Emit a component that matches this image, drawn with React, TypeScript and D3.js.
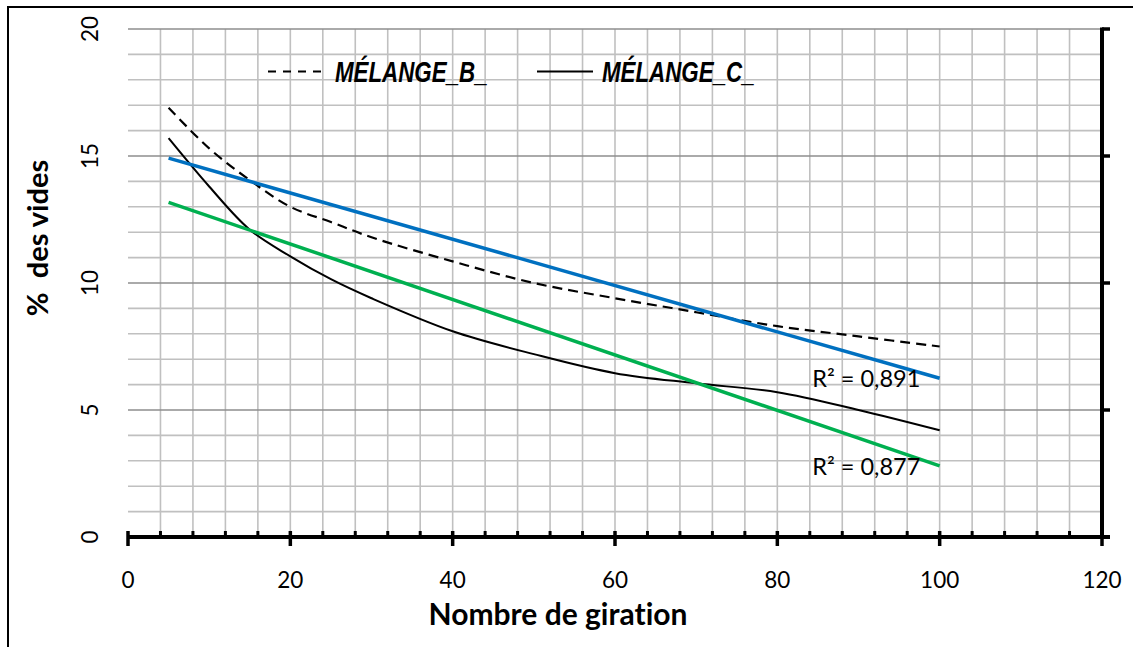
import * as d3 from "d3"

// gyration counts and void percentages
const gyrations = [5, 10, 15, 20, 25, 30, 40, 50, 60, 70, 80, 90, 100]
const videsB = [16.9, 15.3, 14.05, 13.0, 12.4, 11.8, 10.85, 10.0, 9.4, 8.85, 8.3, 7.9, 7.5]
const videsC = [15.7, 13.8, 12.1, 11.05, 10.15, 9.4, 8.1, 7.2, 6.45, 6.05, 5.7, 5.0, 4.2]

// linear trendlines (slope, intercept) and their R² labels
const trendB = { slope: -0.0912, intercept: 15.37, label: "R² = 0,891", labelAt: [84.3, 5.9] }
const trendC = { slope: -0.1092, intercept: 13.72, label: "R² = 0,877", labelAt: [84.3, 2.44] }
const trendRange = [5, 100]

const xTicks = [0, 20, 40, 60, 80, 100, 120]
const yTicks = [0, 5, 10, 15, 20]

const W = 1133
const H = 647
const margin = { left: 128, right: 1102, top: 29, bottom: 537 }
const tickFont = "Lato, 'Open Sans', sans-serif"
const legendFont = "'Liberation Sans', Arial, sans-serif"
const noLig = { fontVariantLigatures: "none" as const }

export default function App() {
  const x = d3.scaleLinear().domain([0, 120]).range([margin.left, margin.right])
  const y = d3.scaleLinear().domain([0, 20]).range([margin.bottom, margin.top])

  const line = d3
    .line<[number, number]>()
    .x((d) => x(d[0]))
    .y((d) => y(d[1]))
    .curve(d3.curveCatmullRom.alpha(0.5))
  const straight = d3
    .line<[number, number]>()
    .x((d) => x(d[0]))
    .y((d) => y(d[1]))

  const ptsB = gyrations.map((g, i) => [g, videsB[i]] as [number, number])
  const ptsC = gyrations.map((g, i) => [g, videsC[i]] as [number, number])
  const trendPts = (t: typeof trendB) =>
    trendRange.map((g) => [g, t.intercept + t.slope * g] as [number, number])

  const hGrid = d3.range(0, 21, 1)
  const vGrid = d3.range(4, 120, 4)
  const minorX = d3.range(0, 121, 4).filter((v) => v % 20 !== 0)

  return (
    <svg
      width={W}
      height={H}
      style={{ position: "absolute", left: 0, top: 0, background: "#fff" }}
    >
      <rect x={8} y={7} width={W + 20} height={H + 20} fill="#fff" stroke="#000" strokeWidth={2} />

      {/* grid */}
      <g>
        {vGrid.map((v) => (
          <line key={"v" + v} x1={x(v)} x2={x(v)} y1={y(20)} y2={y(0)} stroke="#c0c0c0" strokeWidth={1.6} />
        ))}
        {hGrid.map((v) => (
          <line
            key={"h" + v}
            x1={x(0)}
            x2={x(120)}
            y1={y(v)}
            y2={y(v)}
            stroke={v % 5 === 0 ? "#8e8e8e" : "#c0c0c0"}
            strokeWidth={1.6}
          />
        ))}
      </g>

      {/* series */}
      <path d={line(ptsB) ?? ""} fill="none" stroke="#000" strokeWidth={2.2} strokeDasharray="10,6" />
      <path d={line(ptsC) ?? ""} fill="none" stroke="#000" strokeWidth={2} />
      <path d={straight(trendPts(trendB)) ?? ""} fill="none" stroke="#0070C0" strokeWidth={3.5} />
      <path d={straight(trendPts(trendC)) ?? ""} fill="none" stroke="#00B050" strokeWidth={3.5} />

      {[trendB, trendC].map((t) => (
        <text
          key={t.label}
          x={x(t.labelAt[0])}
          y={y(t.labelAt[1])}
          fontFamily={tickFont}
          fontSize={23.5}
          fill="#000"
        >
          {t.label}
        </text>
      ))}

      {/* x axis */}
      <line x1={x(0)} x2={x(120) + 8} y1={y(0)} y2={y(0)} stroke="#000" strokeWidth={4} />
      {minorX.map((v) => (
        <line key={"mx" + v} x1={x(v)} x2={x(v)} y1={y(0)} y2={y(0) - 6} stroke="#000" strokeWidth={3} />
      ))}
      {xTicks.map((v) => (
        <g key={"xt" + v}>
          <line x1={x(v)} x2={x(v)} y1={y(0) - 6} y2={y(0) + 9} stroke="#000" strokeWidth={3.5} />
          <text x={x(v)} y={588} textAnchor="middle" fontFamily={tickFont} fontSize={22.5}>
            {v}
          </text>
        </g>
      ))}

      {/* right axis */}
      <line x1={x(120)} x2={x(120)} y1={y(20) - 1.5} y2={y(0)} stroke="#000" strokeWidth={4} />
      {yTicks.map((v) => (
        <line key={"yt" + v} x1={x(120)} x2={x(120) + 8} y1={y(v)} y2={y(v)} stroke="#000" strokeWidth={3.5} />
      ))}

      {/* y tick labels, rotated */}
      {yTicks.map((v) => (
        <text
          key={"yl" + v}
          transform={`translate(98,${y(v)}) rotate(-90)`}
          textAnchor="middle"
          fontFamily={tickFont}
          fontSize={22.5}
        >
          {v}
        </text>
      ))}

      {/* axis titles */}
      <text
        x={558}
        y={625}
        textAnchor="middle"
        fontFamily={tickFont}
        fontWeight="bold"
        fontSize={30}
        style={noLig}
      >
        Nombre de giration
      </text>
      <text
        transform="translate(48,238) rotate(-90)"
        textAnchor="middle"
        fontFamily={tickFont}
        fontWeight="bold"
        fontSize={29}
        style={{ whiteSpace: "pre", ...noLig }}
      >
        {"%  des vides"}
      </text>

      {/* legend */}
      <line x1={268} x2={323} y1={71.5} y2={71.5} stroke="#000" strokeWidth={2.2} strokeDasharray="8,7" />
      <text
        transform="translate(335,82) scale(0.77,1)"
        fontFamily={legendFont}
        fontStyle="italic"
        fontWeight="bold"
        fontSize={29}
      >
        MÉLANGE_B_
      </text>
      <line x1={537} x2={593} y1={71.5} y2={71.5} stroke="#000" strokeWidth={2.2} />
      <text
        transform="translate(602,82) scale(0.77,1)"
        fontFamily={legendFont}
        fontStyle="italic"
        fontWeight="bold"
        fontSize={29}
      >
        MÉLANGE_C_
      </text>
    </svg>
  )
}
